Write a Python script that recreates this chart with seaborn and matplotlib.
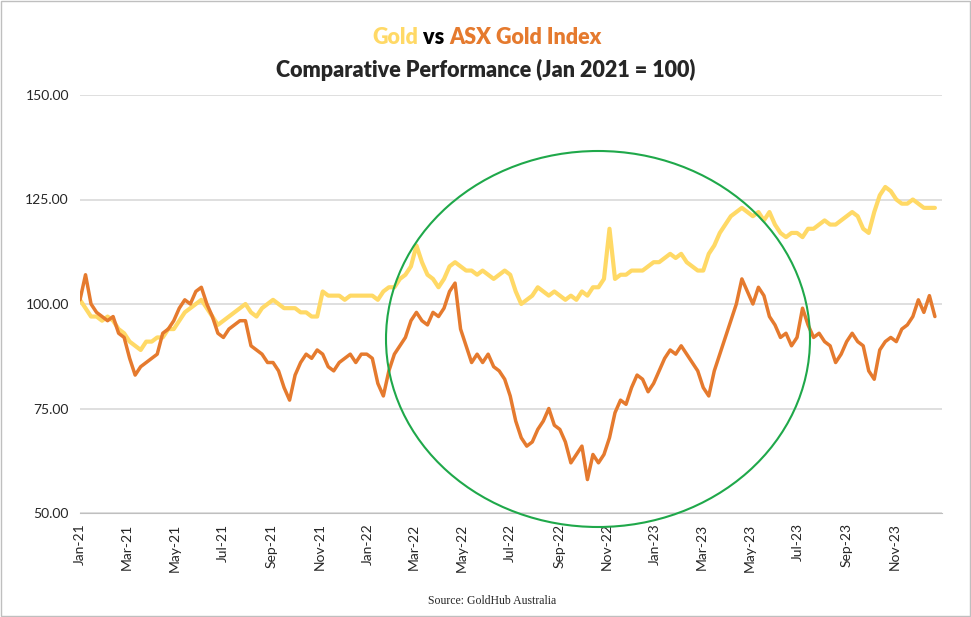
import seaborn as sns
import matplotlib.pyplot as plt
import matplotlib.dates as mdates
import matplotlib.patches as mpatches
import pandas as pd

## Weekly values (Jan 2021 = 100)
gold_2021 = [101, 99, 97, 97, 96, 97, 96, 94, 93, 91, 90, 89, 91, 91, 92, 92, 94,
             94, 96, 98, 99, 100, 101, 99, 97, 95, 96, 97, 98, 99, 100, 98, 97, 99, 100,
             101, 100, 99, 99, 99, 98, 98, 97, 97, 103, 102, 102, 102, 101, 102, 102, 102]
gold_2022 = [102, 102, 101, 103, 104, 104, 106, 107, 109, 114, 110, 107, 106, 104, 106, 109, 110,
             109, 108, 108, 107, 108, 107, 106, 107, 108, 107, 103, 100, 101, 102, 104, 103, 102, 103,
             102, 101, 102, 101, 103, 102, 104, 104, 106, 118, 106, 107, 107, 108, 108, 108, 109]
gold_2023 = [110, 110, 111, 112, 111, 112, 110, 109, 108, 108, 112, 114, 117, 119, 121, 122, 123,
             122, 121, 122, 120, 122, 119, 117, 116, 117, 117, 116, 118, 118, 119, 120, 119, 119, 120,
             121, 122, 121, 118, 117, 122, 126, 128, 127, 125, 124, 124, 125, 124, 123, 123, 123]

asx_2021 = [101, 107, 100, 98, 97, 96, 97, 93, 92, 87, 83, 85, 86, 87, 88, 93, 94,
            96, 99, 101, 100, 103, 104, 100, 97, 93, 92, 94, 95, 96, 96, 90, 89, 88, 86,
            86, 84, 80, 77, 83, 86, 88, 87, 89, 88, 85, 84, 86, 87, 88, 86, 88]
asx_2022 = [88, 87, 81, 78, 84, 88, 90, 92, 96, 98, 96, 95, 98, 97, 99, 103, 105,
            94, 90, 86, 88, 86, 88, 85, 84, 82, 78, 72, 68, 66, 67, 70, 72, 75, 71,
            70, 67, 62, 64, 66, 58, 64, 62, 64, 68, 74, 77, 76, 80, 83, 82, 79]
asx_2023 = [81, 84, 87, 89, 88, 90, 88, 86, 84, 80, 78, 84, 88, 92, 96, 100, 106,
            103, 100, 104, 102, 97, 95, 92, 93, 90, 92, 99, 95, 92, 93, 91, 90, 86, 88,
            91, 93, 91, 90, 84, 82, 89, 91, 92, 91, 94, 95, 97, 101, 98, 102, 97]

gold = gold_2021 + gold_2022 + gold_2023
asx = asx_2021 + asx_2022 + asx_2023
dates = pd.date_range("2021-01-01", periods=len(gold), freq="7D")
df = pd.DataFrame({"date": dates, "Gold": gold, "ASX Gold Index": asx})

## Colours
c_gold = '#FFD966'
c_asx = '#E57A2E'
c_green = '#1FA84A'

sns.set_style("white")
plt.rcParams['font.family'] = ['Lato', 'DejaVu Sans']

fig = plt.figure(figsize=(9.71, 6.17), dpi=100)
ax = fig.add_axes([80/971, 1 - 513/617, (942 - 80)/971, (513 - 95)/617])

sns.lineplot(data=df, x="date", y="Gold", color=c_gold, linewidth=3, ax=ax)
sns.lineplot(data=df, x="date", y="ASX Gold Index", color=c_asx, linewidth=2.5, ax=ax)

ax.set_ylim(50, 150)
ax.set_yticks([50, 75, 100, 125, 150])
ax.set_yticklabels(['{:.2f}'.format(v) for v in [50, 75, 100, 125, 150]], fontsize=10)
ax.set_xlim(pd.Timestamp("2021-01-01"), pd.Timestamp("2023-12-31"))
ax.xaxis.set_major_locator(mdates.MonthLocator(bymonth=[1, 3, 5, 7, 9, 11]))
ax.xaxis.set_major_formatter(mdates.DateFormatter('%b-%y'))
plt.setp(ax.get_xticklabels(), rotation=90, fontsize=10)
ax.set_xlabel('')
ax.set_ylabel('')
ax.grid(axis='y', color='#d9d9d9', linewidth=1.2)
ax.set_axisbelow(True)
for s in ['top', 'right', 'left']:
    ax.spines[s].set_visible(False)
ax.spines['bottom'].set_color('#bfbfbf')
ax.tick_params(axis='x', length=4, color='#bfbfbf')
ax.tick_params(axis='y', length=0, pad=8)

## Highlight ellipse
ell = mpatches.Ellipse((598/971, 1 - 339/617), 424/971, 376/617, transform=fig.transFigure,
                       fill=False, edgecolor=c_green, linewidth=1.5, clip_on=False)
fig.patches.append(ell)

## Title (multi-coloured first line)
fig.canvas.draw()
r = fig.canvas.get_renderer()
parts = [("Gold", c_gold), (" vs ", 'black'), ("ASX Gold Index", c_asx)]
texts = []
for s, c in parts:
    t = fig.text(0, 1 - 37/617, s, color=c, fontsize=15.5, fontweight='heavy', va='center')
    texts.append(t)
widths = [t.get_window_extent(r).width for t in texts]
x = (487 - sum(widths)/2)
for t, w in zip(texts, widths):
    t.set_x(x/971)
    x += w
fig.text(486/971, 1 - 70/617, "Comparative Performance (Jan 2021 = 100)", fontsize=15.5,
         fontweight='heavy', ha='center', va='center')

fig.text(492/971, 1 - 601/617, "Source: GoldHub Australia", fontsize=8.5,
         family=['Liberation Serif', 'DejaVu Serif'], ha='center', va='center')

## Border
fig.patches.append(mpatches.Rectangle((0.001, 0.001), 0.998, 0.997, transform=fig.transFigure,
                                      fill=False, edgecolor='#bfbfbf', linewidth=1))

plt.savefig("out.png", dpi=100)
